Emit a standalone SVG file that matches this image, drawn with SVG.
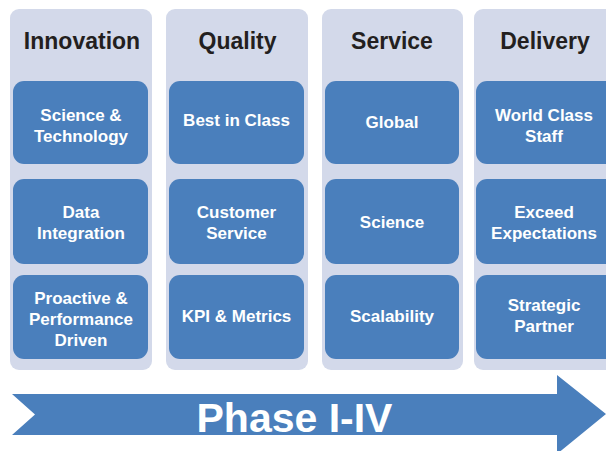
<svg xmlns="http://www.w3.org/2000/svg" width="606" height="451" viewBox="0 0 606 451">
<style>
.col{fill:#D3D9EA}
.box{fill:#4A7FBC}
.hd{font-family:"Liberation Sans",Arial,sans-serif;font-weight:bold;font-size:23px;fill:#231F20;text-anchor:middle}
.lb{font-family:"Liberation Sans",Arial,sans-serif;font-weight:bold;font-size:17px;fill:#FFFFFF;text-anchor:middle}
.ph{font-family:"Liberation Sans",Arial,sans-serif;font-weight:bold;font-size:41px;fill:#FFFFFF;text-anchor:middle}
</style>
<rect width="606" height="451" fill="#FFFFFF"/>
<g id="col-innovation">
<rect class="col" x="10" y="9" width="142" height="361" rx="9"/>
<text class="hd" x="82" y="49">Innovation</text>
</g>
<g id="col-quality">
<rect class="col" x="166" y="9" width="142" height="361" rx="9"/>
<text class="hd" x="237.5" y="49">Quality</text>
</g>
<g id="col-service">
<rect class="col" x="322" y="9" width="141" height="361" rx="9"/>
<text class="hd" x="392" y="49">Service</text>
</g>
<g id="col-delivery">
<rect class="col" x="474" y="9" width="146" height="361" rx="9"/>
<text class="hd" x="545" y="49">Delivery</text>
</g>
<g id="n-science-tech">
<rect class="box" x="13" y="81" width="135" height="83" rx="11"/>
<text class="lb" x="81" y="120.5">Science &amp;</text>
<text class="lb" x="81" y="141.5">Technology</text>
</g>
<g id="n-data-integration">
<rect class="box" x="13" y="179" width="135" height="85" rx="11"/>
<text class="lb" x="81" y="218">Data</text>
<text class="lb" x="81" y="238.5">Integration</text>
</g>
<g id="n-proactive">
<rect class="box" x="13" y="275" width="135" height="84" rx="11"/>
<text class="lb" x="81" y="304">Proactive &amp;</text>
<text class="lb" x="81" y="325">Performance</text>
<text class="lb" x="81" y="346">Driven</text>
</g>
<g id="n-best-in-class">
<rect class="box" x="169" y="81" width="135" height="83" rx="11"/>
<text class="lb" x="236.5" y="126">Best in Class</text>
</g>
<g id="n-customer-service">
<rect class="box" x="169" y="179" width="135" height="85" rx="11"/>
<text class="lb" x="236.5" y="218">Customer</text>
<text class="lb" x="236.5" y="238.5">Service</text>
</g>
<g id="n-kpi">
<rect class="box" x="169" y="275" width="135" height="84" rx="11"/>
<text class="lb" x="236.5" y="321.5">KPI &amp; Metrics</text>
</g>
<g id="n-global">
<rect class="box" x="325" y="81" width="134" height="83" rx="11"/>
<text class="lb" x="392" y="128">Global</text>
</g>
<g id="n-science">
<rect class="box" x="325" y="179" width="134" height="85" rx="11"/>
<text class="lb" x="392" y="227.5">Science</text>
</g>
<g id="n-scalability">
<rect class="box" x="325" y="275" width="134" height="84" rx="11"/>
<text class="lb" x="392" y="321.5">Scalability</text>
</g>
<g id="n-world-class">
<rect class="box" x="476" y="81" width="144" height="83" rx="11"/>
<text class="lb" x="544" y="120.5">World Class</text>
<text class="lb" x="544" y="141.5">Staff</text>
</g>
<g id="n-exceed">
<rect class="box" x="476" y="179" width="144" height="85" rx="11"/>
<text class="lb" x="544" y="218">Exceed</text>
<text class="lb" x="544" y="238.5">Expectations</text>
</g>
<g id="n-strategic">
<rect class="box" x="476" y="275" width="144" height="84" rx="11"/>
<text class="lb" x="544" y="311">Strategic</text>
<text class="lb" x="544" y="332">Partner</text>
</g>
<g id="connectors">
<g id="phase-arrow">
<polygon class="box" points="12,394 557,394 557,375 606,414 557,454 557,435 12,435 35,414.5"/>
<text class="ph" x="294.5" y="432">Phase I-IV</text>
</g>
</g>
</svg>
